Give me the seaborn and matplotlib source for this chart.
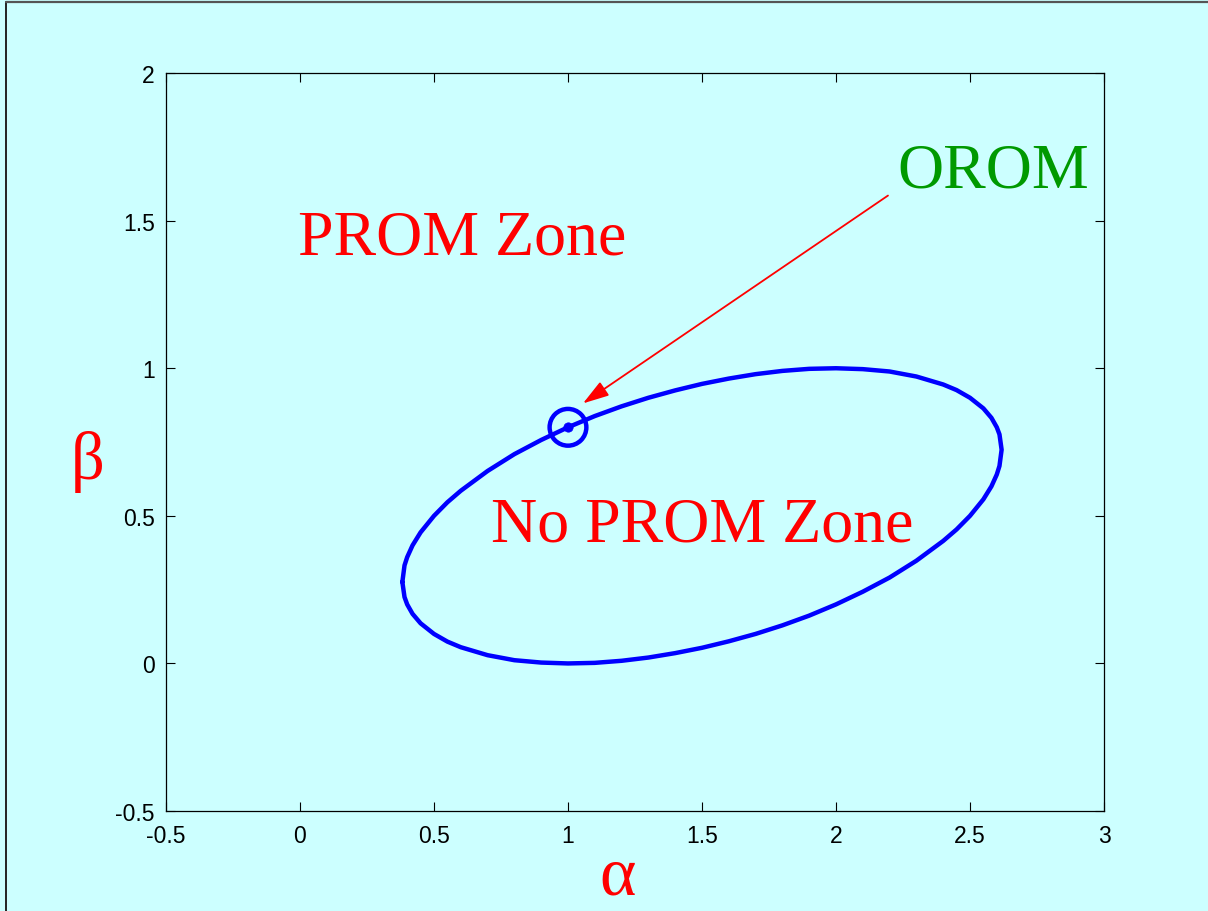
import matplotlib
matplotlib.use("Agg")
import matplotlib.pyplot as plt
from matplotlib.lines import Line2D
import seaborn as sns
import pandas as pd

# Boundary between the two zones (closed curve, alpha vs beta)
alpha_pts = [0.382, 0.39, 0.40, 0.42, 0.45, 0.50, 0.55, 0.60, 0.70, 0.80, 0.90, 1.00,
             1.10, 1.20, 1.30, 1.40, 1.50, 1.60, 1.70, 1.80, 1.90, 2.00, 2.10, 2.20,
             2.30, 2.40, 2.45, 2.50, 2.55, 2.58, 2.60, 2.61, 2.618,
             2.61, 2.60, 2.58, 2.55, 2.50, 2.45, 2.40, 2.30, 2.20, 2.10, 2.00, 1.90,
             1.80, 1.70, 1.60, 1.50, 1.40, 1.30, 1.20, 1.10, 1.00, 0.90, 0.80, 0.70,
             0.60, 0.55, 0.50, 0.45, 0.42, 0.40, 0.39, 0.382]
beta_pts = [0.276, 0.225, 0.200, 0.168, 0.136, 0.100, 0.074, 0.055, 0.028, 0.011, 0.003, 0.000,
            0.002, 0.009, 0.020, 0.035, 0.053, 0.075, 0.100, 0.129, 0.162, 0.200, 0.243, 0.291,
            0.348, 0.415, 0.454, 0.500, 0.556, 0.600, 0.640, 0.669, 0.724,
            0.776, 0.800, 0.832, 0.864, 0.900, 0.926, 0.945, 0.972, 0.989, 0.997, 1.000, 0.998,
            0.991, 0.980, 0.965, 0.947, 0.925, 0.900, 0.871, 0.838, 0.800, 0.757, 0.709, 0.652,
            0.585, 0.546, 0.500, 0.444, 0.400, 0.360, 0.332, 0.276]

# Operating point
orom_alpha = [1.0]
orom_beta = [0.8]

x_ticks = [-0.5, 0, 0.5, 1, 1.5, 2, 2.5, 3]
y_ticks = [-0.5, 0, 0.5, 1, 1.5, 2]
x_tick_labels = ["-0.5", "0", "0.5", "1", "1.5", "2", "2.5", "3"]
y_tick_labels = ["-0.5", "0", "0.5", "1", "1.5", "2"]

BG = "#CCFFFF"

sns.set_style("ticks")
plt.rcParams["font.family"] = ["Liberation Sans", "DejaVu Sans"]

fig = plt.figure(figsize=(12.08, 9.12), dpi=100, facecolor=BG)
ax = fig.add_axes([0.1374, 0.1096, 0.7765, 0.8092])
ax.set_facecolor(BG)

boundary = pd.DataFrame({"alpha": alpha_pts, "beta": beta_pts})
sns.lineplot(data=boundary, x="alpha", y="beta", sort=False, estimator=None,
             color="#0000FF", linewidth=3.2, ax=ax)

# OROM marker: open circle with a dot at its centre
sns.scatterplot(x=orom_alpha, y=orom_beta, s=700, facecolors="none",
                edgecolor="#0000FF", linewidth=3.2, ax=ax, zorder=5)
sns.scatterplot(x=orom_alpha, y=orom_beta, s=45, color="#0000FF",
                edgecolor="#0000FF", ax=ax, zorder=6)

ax.annotate("", xy=(1.056, 0.881), xytext=(2.194, 1.585),
            arrowprops=dict(arrowstyle="-|>,head_length=0.8,head_width=0.25",
                            color="red", lw=1.3, mutation_scale=20,
                            shrinkA=0, shrinkB=0))

serif = ["Liberation Serif", "DejaVu Serif"]
ax.text(2.228, 1.616, "OROM", color="#009900", fontsize=46, family=serif,
        ha="left", va="baseline")
ax.text(-0.007, 1.389, "PROM Zone", color="red", fontsize=46, family=serif,
        ha="left", va="baseline")
ax.text(0.713, 0.417, "No PROM Zone", color="red", fontsize=46, family=serif,
        ha="left", va="baseline")

ax.set_xlim(-0.5, 3)
ax.set_ylim(-0.5, 2)
ax.set_xticks(x_ticks)
ax.set_xticklabels(x_tick_labels)
ax.set_yticks(y_ticks)
ax.set_yticklabels(y_tick_labels)
ax.tick_params(axis="both", direction="in", length=6.5, width=0.8,
               top=True, right=True, labelsize=16.5, colors="black")
ax.tick_params(axis="x", pad=9)
ax.tick_params(axis="y", pad=8)
for sp in ax.spines.values():
    sp.set_visible(True)
    sp.set_color("black")
    sp.set_linewidth(0.9)

ax.set_xlabel("α", color="red", fontsize=50, family=serif, va="center")
ax.xaxis.set_label_coords(0.481, -0.0894)
ax.set_ylabel("β", color="red", fontsize=48, family=serif, rotation=0,
              va="center", ha="center")
ax.yaxis.set_label_coords(-0.0832, 0.474)

# Frame lines along the left and top edges of the figure
fig.add_artist(Line2D([6 / 1208, 6 / 1208], [0, 1 - 3 / 912], color="#222222",
                      lw=1.4, transform=fig.transFigure))
fig.add_artist(Line2D([6 / 1208, 1], [1 - 3 / 912, 1 - 3 / 912], color="#555555",
                      lw=1.6, transform=fig.transFigure))

fig.savefig("out.png", dpi=100, facecolor=BG)
